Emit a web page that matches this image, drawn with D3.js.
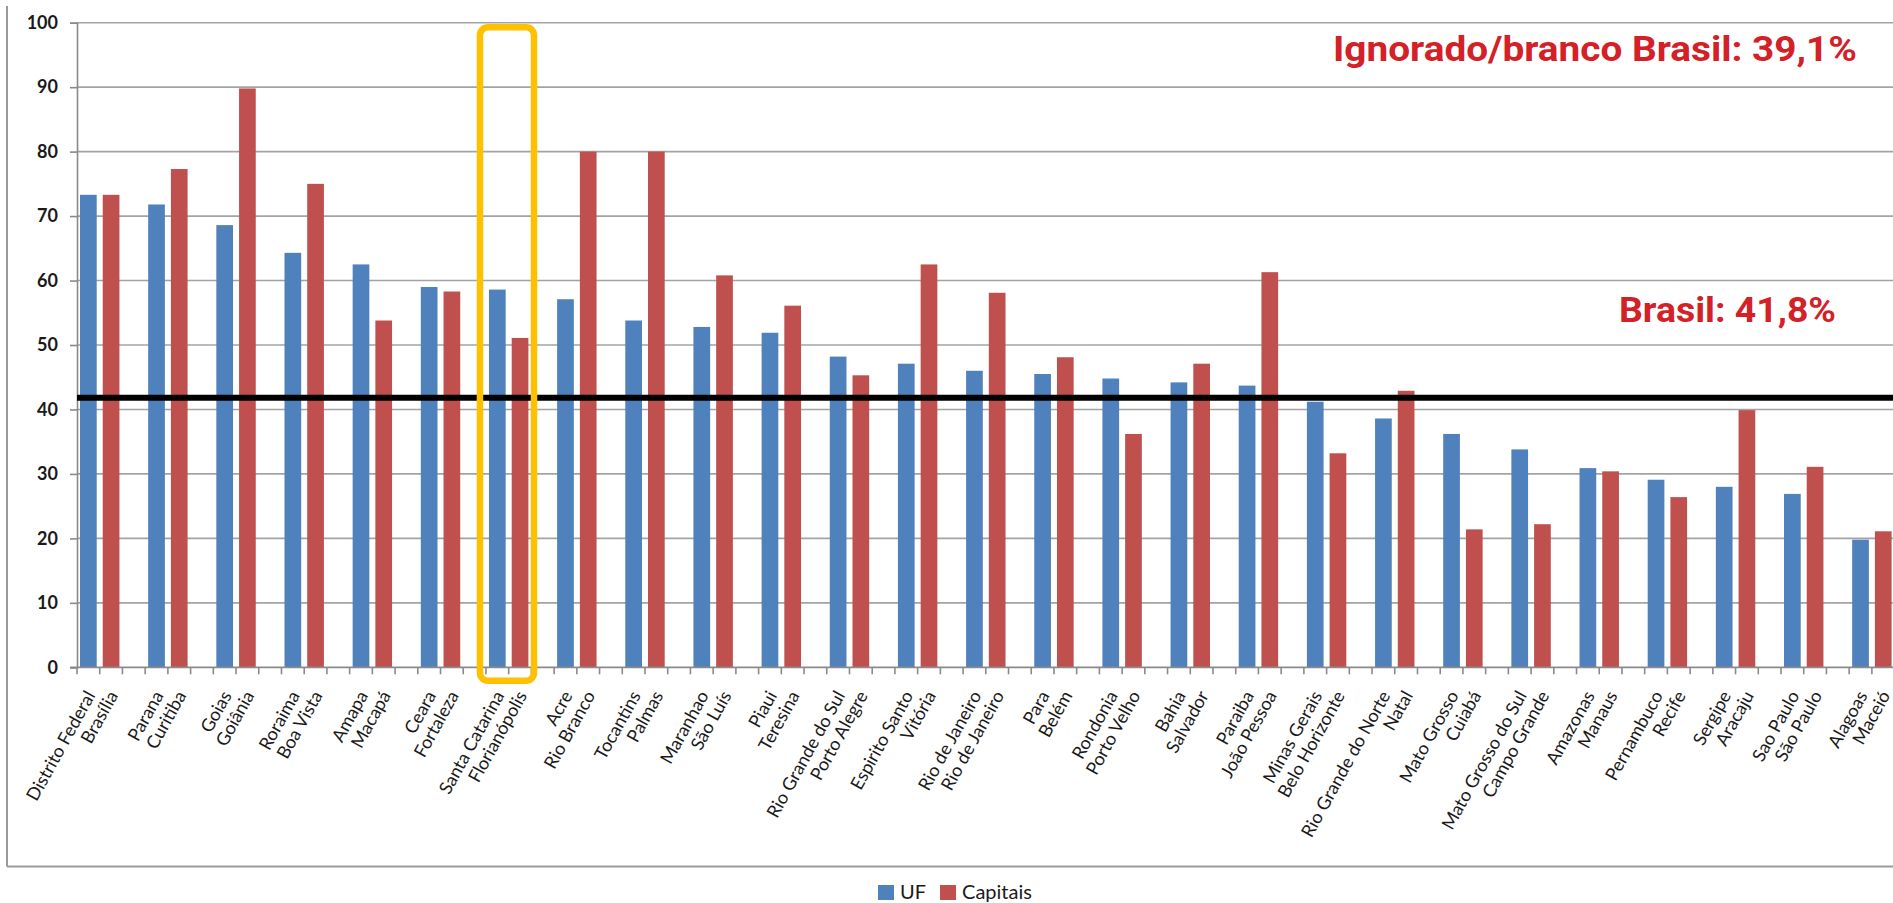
<!DOCTYPE html>
<html>
<head>
<meta charset="utf-8">
<script src="https://cdn.jsdelivr.net/npm/d3@7"></script>
<style>
  html, body { margin: 0; padding: 0; background: #fff; }
  svg { display: block; }
</style>
</head>
<body>
<svg id="chart" width="1893" height="903"></svg>
<script>
// States (UF) and their capitals, ordered as plotted
const states = ["Distrito Federal", "Parana", "Goias", "Roraima", "Amapa", "Ceara", "Santa Catarina",
  "Acre", "Tocantins", "Maranhao", "Piaui", "Rio Grande do Sul", "Espirito Santo", "Rio de Janeiro",
  "Para", "Rondonia", "Bahia", "Paraiba", "Minas Gerais", "Rio Grande do Norte", "Mato Grosso",
  "Mato Grosso do Sul", "Amazonas", "Pernambuco", "Sergipe", "Sao Paulo", "Alagoas"];
const capitals = ["Brasília", "Curitiba", "Goiânia", "Boa Vista", "Macapá", "Fortaleza", "Florianópolis",
  "Rio Branco", "Palmas", "São Luís", "Teresina", "Porto Alegre", "Vitória", "Rio de Janeiro",
  "Belém", "Porto Velho", "Salvador", "João Pessoa", "Belo Horizonte", "Natal", "Cuiabá",
  "Campo Grande", "Manaus", "Recife", "Aracaju", "São Paulo", "Maceió"];

// Percentages per state and per capital
const ufValues = [73.3, 71.8, 68.6, 64.3, 62.5, 59.0, 58.6, 57.1, 53.8, 52.8, 51.9, 48.2, 47.1, 46.0,
  45.5, 44.8, 44.2, 43.7, 41.2, 38.6, 36.2, 33.8, 30.9, 29.1, 28.0, 26.9, 19.8];
const capitalValues = [73.3, 77.3, 89.8, 75.0, 53.8, 58.3, 51.1, 80.0, 80.0, 60.8, 56.1, 45.3, 62.5, 58.1,
  48.1, 36.2, 47.1, 61.3, 33.2, 42.9, 21.4, 22.2, 30.4, 26.4, 39.9, 31.1, 21.1];

const seriesNames = ["UF", "Capitais"];
const seriesColors = ["#4F81BD", "#C0504D"];
const yTicks = [0, 10, 20, 30, 40, 50, 60, 70, 80, 90, 100];

// Reference values
const brasilValue = 41.8;
const brasilLabel = "Brasil: 41,8%";
const ignoradoLabel = "Ignorado/branco Brasil: 39,1%";
const highlighted = "Santa Catarina";

// Each state occupies three slots: state bar, capital bar, empty spacer
const slots = [];
states.forEach((s, i) => {
  slots.push({ key: "u" + i, group: i, series: 0, label: s, value: ufValues[i] });
  slots.push({ key: "c" + i, group: i, series: 1, label: capitals[i], value: capitalValues[i] });
  if (i < states.length - 1) slots.push({ key: "g" + i, group: i, series: -1, label: "", value: null });
});

const svg = d3.select("#chart");
const W = 1893;
const plot = { left: 77, top: 22.7, bottom: 667.3 };
const step = 22.72;
const plotRight = plot.left + step * slots.length;

const x = d3.scaleBand()
  .domain(slots.map(d => d.key))
  .range([plot.left, plotRight])
  .paddingInner(0.265)
  .paddingOuter(0.1325);
const y = d3.scaleLinear().domain([0, 100]).range([plot.bottom, plot.top]);

// Chart frame
svg.append("line").attr("x1", 7).attr("x2", 7).attr("y1", 6).attr("y2", 866.5)
  .attr("stroke", "#9a9a9a").attr("stroke-width", 2);
svg.append("line").attr("x1", 7).attr("x2", W).attr("y1", 866.5).attr("y2", 866.5)
  .attr("stroke", "#9a9a9a").attr("stroke-width", 2);

// Horizontal gridlines
svg.append("g").selectAll("line").data(yTicks.filter(t => t > 0)).join("line")
  .attr("x1", plot.left).attr("x2", W)
  .attr("y1", d => y(d)).attr("y2", d => y(d))
  .attr("stroke", "#a3a3a3").attr("stroke-width", 1.6);

// Y axis
const yAxis = svg.append("g").attr("transform", `translate(${plot.left},0)`)
  .call(d3.axisLeft(y).tickValues(yTicks).tickSize(7).tickPadding(12));
yAxis.select(".domain").attr("stroke", "#8a8a8a").attr("stroke-width", 1.6);
yAxis.selectAll(".tick line").attr("stroke", "#8a8a8a").attr("stroke-width", 1.6);
yAxis.selectAll(".tick text")
  .attr("font-family", "Lato, 'Open Sans', sans-serif")
  .attr("font-weight", 700).attr("font-size", 18).attr("fill", "#1a1a1a");

// Bars
const bars = slots.filter(d => d.series >= 0);
svg.append("g").selectAll("rect").data(bars).join("rect")
  .attr("x", d => x(d.key))
  .attr("width", x.bandwidth())
  .attr("y", d => y(d.value))
  .attr("height", d => y(0) - y(d.value))
  .attr("fill", d => seriesColors[d.series]);

// X axis line with a tick at every slot boundary
const bounds = d3.range(slots.length + 1).map(k => plot.left + k * x.step());
svg.append("line").attr("x1", plot.left - 7).attr("x2", W)
  .attr("y1", plot.bottom).attr("y2", plot.bottom)
  .attr("stroke", "#8a8a8a").attr("stroke-width", 1.8);
svg.append("g").selectAll("line").data(bounds).join("line")
  .attr("x1", d => d).attr("x2", d => d)
  .attr("y1", plot.bottom).attr("y2", plot.bottom + 7)
  .attr("stroke", "#8a8a8a").attr("stroke-width", 1.6);

// Rotated category labels
svg.append("g").selectAll("text").data(bars).join("text")
  .attr("transform", d => `translate(${x(d.key) + x.bandwidth() / 2 + 2},${plot.bottom + 25}) rotate(-61)`)
  .attr("text-anchor", "end")
  .attr("dy", "0.35em")
  .attr("font-family", "Lato, 'Open Sans', sans-serif")
  .attr("font-size", 18)
  .attr("fill", "#1a1a1a")
  .text(d => d.label);

// National reference line
svg.append("line").attr("x1", plot.left).attr("x2", W)
  .attr("y1", y(brasilValue)).attr("y2", y(brasilValue))
  .attr("stroke", "#000").attr("stroke-width", 6);

// Highlight box around one state/capital pair
const hi = states.indexOf(highlighted);
const hx0 = plot.left + hi * 3 * x.step() - 6;
const hx1 = plot.left + (hi * 3 + 2) * x.step() + 2.6;
svg.append("rect")
  .attr("x", hx0).attr("y", 27.3)
  .attr("width", hx1 - hx0).attr("height", 680.8 - 27.3)
  .attr("rx", 8).attr("ry", 8)
  .attr("fill", "none").attr("stroke", "#FFC000").attr("stroke-width", 6.5);

// Red annotations
const annFont = "Roboto, 'Open Sans', sans-serif";
svg.append("text").attr("x", 1333).attr("y", 61)
  .attr("font-family", annFont).attr("font-weight", 700).attr("font-size", 35)
  .attr("fill", "#D42027")
  .attr("textLength", 524).attr("lengthAdjust", "spacingAndGlyphs")
  .text(ignoradoLabel);
svg.append("text").attr("x", 1619).attr("y", 322)
  .attr("font-family", annFont).attr("font-weight", 700).attr("font-size", 35)
  .attr("fill", "#D42027")
  .attr("textLength", 217).attr("lengthAdjust", "spacingAndGlyphs")
  .text(brasilLabel);

// Legend
const legend = svg.append("g").attr("transform", "translate(878,885)");
let lx = 0;
seriesNames.forEach((name, i) => {
  const g = legend.append("g").attr("transform", `translate(${lx},0)`);
  g.append("rect").attr("width", 16).attr("height", 15).attr("fill", seriesColors[i]);
  const t = g.append("text").attr("x", 22).attr("y", 14)
    .attr("font-family", "Lato, 'Open Sans', sans-serif").attr("font-size", 20).attr("fill", "#1a1a1a")
    .text(name);
  lx += 22 + t.node().getComputedTextLength() + 14;
});
</script>
</body>
</html>
